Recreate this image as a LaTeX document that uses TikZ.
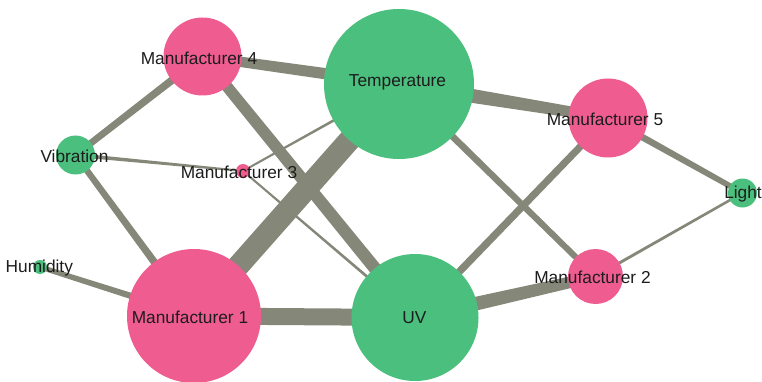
\documentclass[tikz,border=0pt]{standalone}
\usepackage{fontspec}
\setmainfont{Liberation Sans}
\usetikzlibrary{calc}
\definecolor{pinkn}{RGB}{239,92,143}
\definecolor{greenn}{RGB}{75,191,125}
\definecolor{edgec}{RGB}{133,136,121}
\definecolor{txtc}{RGB}{28,28,28}
\pgfdeclarelayer{bg}
\pgfsetlayers{bg,main}
% tapered connector: #1,#2 node names, #3,#4 half widths (pt) at each end
\newcommand\taper[4]{%
  \fill[edgec] ($(#1.center)!#3pt!90:(#2.center)$) -- ($(#1.center)!#3pt!-90:(#2.center)$)
    -- ($(#2.center)!#4pt!90:(#1.center)$) -- ($(#2.center)!#4pt!-90:(#1.center)$) -- cycle;}
\tikzset{
  nd/.style={circle, inner sep=0pt, outer sep=0pt, draw=none},
  pk/.style={nd, fill=pinkn},
  gr/.style={nd, fill=greenn},
  lab/.style={font=\fontsize{17.3}{20}\selectfont, text=txtc, inner sep=0pt}
}
\begin{document}
\begin{tikzpicture}[x=1pt, y=-1pt]
\useasboundingbox (0,0) rectangle (762,382);

\node[pk, minimum size=78pt,  label={[lab, xshift=-3.5pt, yshift=-1.5pt]center:Manufacturer 4}] (m4) at (202.5,56.5) {};
\node[gr, minimum size=150pt, label={[lab, xshift=-1.5pt, yshift=1.5pt]center:Temperature}] (temp) at (399,84) {};
\node[pk, minimum size=79pt,  label={[lab, xshift=-3pt, yshift=-1pt]center:Manufacturer 5}] (m5) at (608,118) {};
\node[gr, minimum size=39pt,  label={[lab, xshift=-1pt, yshift=-1pt]center:Vibration}] (vib) at (75.5,155) {};
\node[pk, minimum size=14pt,  label={[lab, xshift=-4pt, yshift=-1pt]center:Manufacturer 3}] (m3) at (243,171) {};
\node[gr, minimum size=29pt,  label={[lab, xshift=0.5pt, yshift=-1pt]center:Light}] (light) at (742.5,193) {};
\node[gr, minimum size=14pt,  label={[lab, xshift=-0.7pt, yshift=-0.7pt]center:Humidity}] (hum) at (40,267) {};
\node[pk, minimum size=134pt, label={[lab, xshift=-4pt, yshift=-1.5pt]center:Manufacturer 1}] (m1) at (194,316) {};
\node[gr, minimum size=127pt, label={[lab, xshift=-0.7pt, yshift=0pt]center:UV}] (uv) at (415,317.5) {};
\node[pk, minimum size=55pt,  label={[lab, xshift=-3pt, yshift=-0.5pt]center:Manufacturer 2}] (m2) at (595.5,276.5) {};

\begin{pgfonlayer}{bg}
\fill[white] (0,0) rectangle (762,382);
\taper{m4}{temp}{5}{6}
\taper{m4}{vib}{4}{3.25}
\taper{m4}{uv}{5.5}{6.5}
\taper{temp}{m5}{8}{5}
\taper{temp}{m1}{11}{11}
\taper{temp}{m2}{3.5}{3}
\taper{temp}{m3}{1.5}{1}
\taper{m5}{uv}{3.5}{3.75}
\taper{m5}{light}{3.5}{2.75}
\taper{light}{m2}{1.25}{1.5}
\taper{vib}{m3}{2}{1}
\taper{vib}{m1}{3}{4}
\taper{m3}{uv}{1}{1.5}
\taper{hum}{m1}{2.5}{3.5}
\taper{m1}{uv}{8.5}{8.5}
\taper{uv}{m2}{7.5}{5.5}
\end{pgfonlayer}
\end{tikzpicture}
\end{document}
